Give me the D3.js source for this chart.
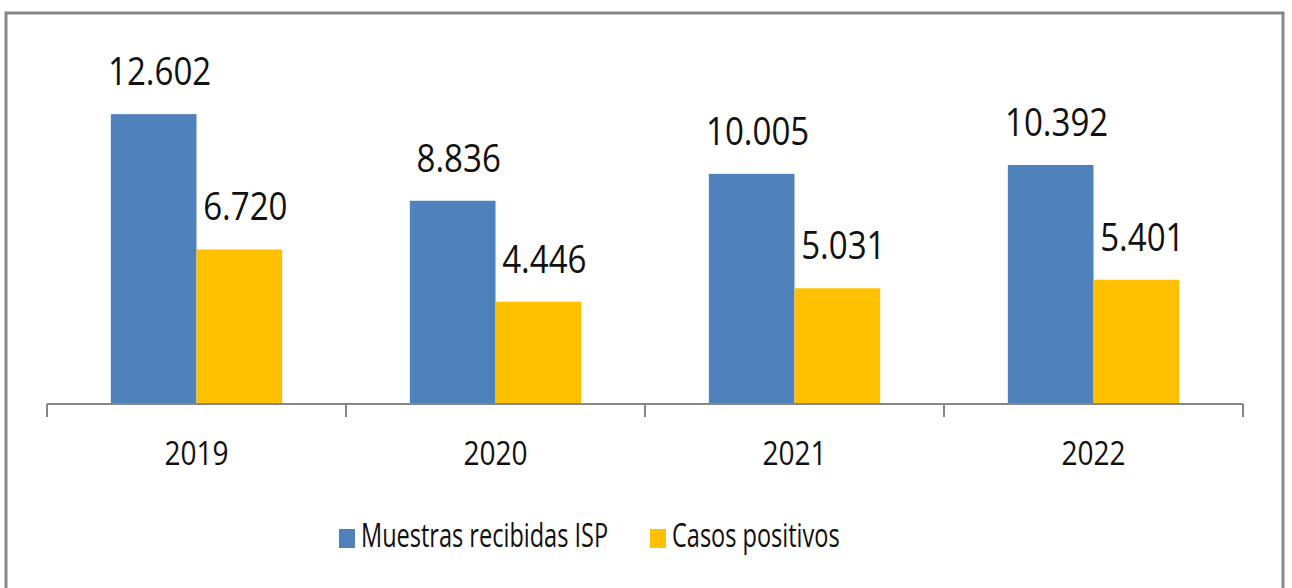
<!DOCTYPE html>
<html>
<head>
<meta charset="utf-8">
<script src="https://cdn.jsdelivr.net/npm/d3@7"></script>
<style>
  body { margin: 0; background: #fff; }
  text { font-family: 'Open Sans', sans-serif; fill: #111; }
</style>
</head>
<body>
<div id="chartFrame"></div>
<script>
const years = ['2019', '2020', '2021', '2022']
const muestras = [12602, 8836, 10005, 10392]
const positivos = [6720, 4446, 5031, 5401]
const seriesNames = ['Muestras recibidas ISP', 'Casos positivos']
const colors = ['#4F81BD', '#FFC000']

const W = 1292
const H = 588
const fmt = v => d3.format(',')(v).replace(/,/g, '.')
// the original font is narrow (Calibri-like), so squeeze text horizontally
let place = (x, y, sx) => `translate(${x},${y}) scale(${sx},1)`

let svg = d3.select('#chartFrame').append('svg')
  .attr('width', W)
  .attr('height', H)

// outer frame
svg.append('rect')
  .attr('x', 6).attr('y', 13)
  .attr('width', 1277).attr('height', 600)
  .style('fill', 'none')
  .style('stroke', '#868686')
  .style('stroke-width', 3)

const xScale = d3.scaleBand()
  .domain(years)
  .range([47, 1243])
const xInner = d3.scaleBand()
  .domain(seriesNames)
  .range([0, xScale.bandwidth()])
  .paddingOuter(0.745)
const yScale = d3.scaleLinear()
  .domain([0, 14000])
  .range([404, 82])

let series = [muestras, positivos]
series.forEach((vals, s) => {
  let g = svg.append('g')
  g.selectAll('rect')
    .data(vals)
    .enter()
    .append('rect')
    .attr('x', (d, i) => xScale(years[i]) + xInner(seriesNames[s]))
    .attr('width', xInner.bandwidth())
    .attr('y', d => yScale(d))
    .attr('height', d => yScale(0) - yScale(d))
    .style('fill', colors[s])
  g.selectAll('text')
    .data(vals)
    .enter()
    .append('text')
    .attr('transform', (d, i) => place(
      xScale(years[i]) + xInner(seriesNames[s]) + xInner.bandwidth() / 2 + 6,
      yScale(d) - 29, 0.87))
    .attr('text-anchor', 'middle')
    .style('font-size', '38px')
    .text(d => fmt(d))
})

// category axis with boundary ticks
let axis = svg.append('g')
axis.append('line')
  .attr('x1', xScale.range()[0]).attr('x2', xScale.range()[1])
  .attr('y1', yScale(0)).attr('y2', yScale(0))
  .style('stroke', '#868686').style('stroke-width', 2)
let bounds = years.map(y => xScale(y)).concat([xScale.range()[1]])
axis.selectAll('.tick')
  .data(bounds)
  .enter()
  .append('line')
  .attr('x1', d => d).attr('x2', d => d)
  .attr('y1', yScale(0)).attr('y2', yScale(0) + 13)
  .style('stroke', '#868686').style('stroke-width', 2)
axis.selectAll('.lbl')
  .data(years)
  .enter()
  .append('text')
  .attr('transform', d => place(xScale(d) + xScale.bandwidth() / 2, 465, 0.85))
  .attr('text-anchor', 'middle')
  .style('font-size', '33px')
  .text(d => d)

// legend
const legendX = [339, 650]
let legend = svg.append('g')
seriesNames.forEach((name, i) => {
  legend.append('rect')
    .attr('x', legendX[i]).attr('y', 529)
    .attr('width', 16).attr('height', 19)
    .style('fill', colors[i])
  legend.append('text')
    .attr('transform', place(legendX[i] + 22, 547, 0.735))
    .style('font-size', '32px')
    .text(name)
})
</script>
</body>
</html>
